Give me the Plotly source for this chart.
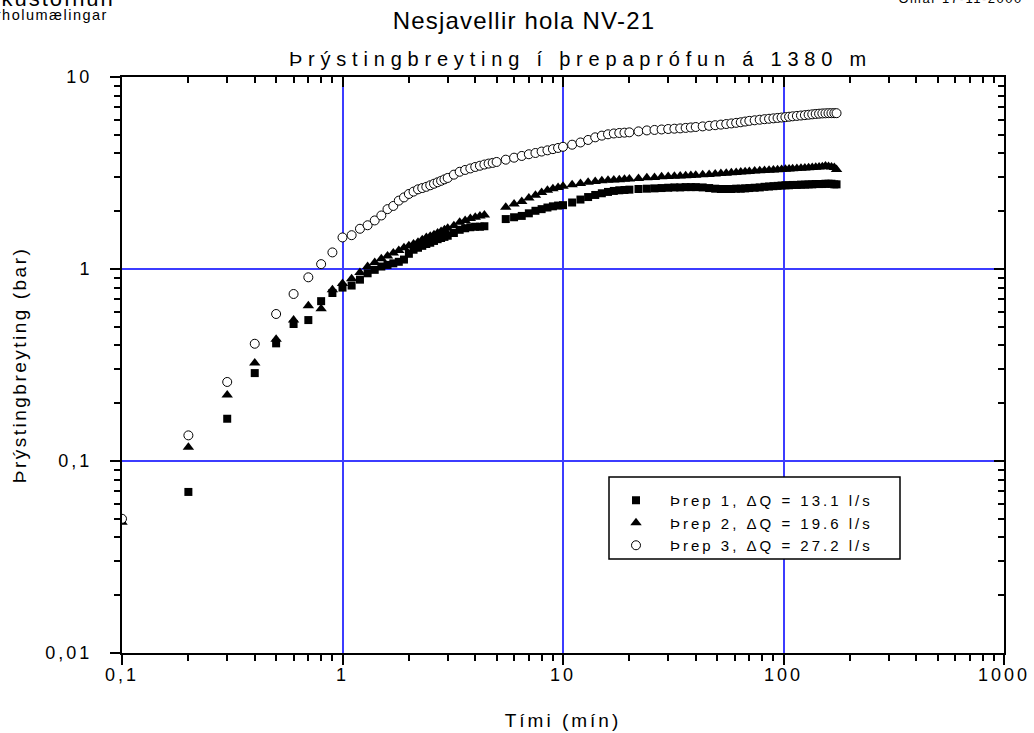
import plotly.graph_objects as go

# Tími frá upphafi þreps (mín)
timi = [0.1, 0.2, 0.3, 0.4, 0.5, 0.6, 0.7, 0.8, 0.9, 1.0,
        1.1, 1.2, 1.3, 1.4, 1.5, 1.6, 1.7, 1.8, 1.9, 2.0,
        2.1, 2.2, 2.3, 2.4, 2.5, 2.6, 2.7, 2.8, 2.9, 3.0,
        3.2, 3.4, 3.6, 3.8, 4.0, 4.2, 4.4, 4.6, 4.8, 5.0,
        5.5, 6.0, 6.5, 7.0, 7.5, 8.0, 8.5, 9.0, 9.5, 10,
        11, 12, 13, 14, 15, 16, 17, 18, 19, 20,
        22, 24, 26, 28, 30, 32, 34, 36, 38, 40,
        43, 46, 49, 52, 55, 58, 61, 64, 67, 70,
        74, 78, 82, 86, 90, 94, 98, 102, 106, 110,
        115, 120, 125, 130, 135, 140, 145, 150, 155, 160,
        165, 170, 174]

# Þrýstingbreyting (bar) í hverju þrepi
threp1 = [None, 0.069, 0.166, 0.287, 0.41, 0.517, 0.542, 0.68, 0.75, 0.80,
          0.82, 0.88, 0.95, 0.99, 1.03, 1.05, 1.07, 1.09, 1.12, 1.20,
          1.26, 1.29, 1.32, 1.35, 1.37, 1.40, 1.43, 1.45, 1.47, 1.49,
          1.54, 1.60, 1.63, 1.65, 1.66, 1.66, 1.67, None, None, None,
          1.82, 1.86, 1.89, 1.95, 2.01, 2.05, 2.09, 2.12, 2.14, 2.15,
          2.22, 2.30, 2.37, 2.43, 2.48, 2.52, 2.55, 2.57, 2.58, 2.59,
          2.61, 2.62, 2.63, 2.64, 2.65, 2.66, 2.66, 2.67, 2.67, 2.67,
          2.66, 2.64, 2.62, 2.61, 2.61, 2.61, 2.62, 2.62, 2.63, 2.64,
          2.65, 2.66, 2.68, 2.69, 2.70, 2.71, 2.72, 2.73, 2.73, 2.74,
          2.74, 2.75, 2.75, 2.76, 2.76, 2.77, 2.77, 2.77, 2.78, 2.78,
          2.78, 2.76, 2.76]

threp2 = [0.048, 0.118, 0.221, 0.324, 0.43, 0.542, 0.644, 0.62, 0.78, 0.84,
          0.89, 0.96, 1.03, 1.08, 1.13, 1.17, 1.21, 1.25, 1.29, 1.32,
          1.35, 1.38, 1.42, 1.46, 1.48, 1.51, 1.54, 1.57, 1.60, 1.63,
          1.68, 1.75, 1.79, 1.83, 1.86, 1.89, 1.91, None, None, None,
          2.10, 2.18, 2.25, 2.34, 2.42, 2.50, 2.57, 2.62, 2.66, 2.70,
          2.75, 2.79, 2.83, 2.86, 2.88, 2.90, 2.91, 2.92, 2.93, 2.94,
          2.96, 2.99, 3.00, 3.02, 3.03, 3.04, 3.05, 3.06, 3.07, 3.08,
          3.10, 3.11, 3.12, 3.14, 3.15, 3.17, 3.18, 3.20, 3.21, 3.22,
          3.24, 3.25, 3.26, 3.27, 3.28, 3.29, 3.30, 3.31, 3.32, 3.33,
          3.34, 3.35, 3.36, 3.37, 3.38, 3.39, 3.40, 3.41, 3.44, 3.42,
          3.40, 3.38, 3.30]

threp3 = [0.050, 0.136, 0.258, 0.408, 0.583, 0.741, 0.905, 1.06, 1.22, 1.46,
          1.50, 1.62, 1.69, 1.79, 1.90, 2.05, 2.13, 2.27, 2.36, 2.46,
          2.53, 2.60, 2.64, 2.68, 2.73, 2.78, 2.83, 2.88, 2.93, 2.98,
          3.10, 3.21, 3.28, 3.34, 3.40, 3.45, 3.50, 3.54, 3.57, 3.61,
          3.71, 3.80, 3.88, 3.96, 4.02, 4.09, 4.15, 4.21, 4.27, 4.33,
          4.44, 4.56, 4.70, 4.85, 4.95, 5.03, 5.08, 5.11, 5.13, 5.15,
          5.21, 5.27, 5.30, 5.33, 5.36, 5.38, 5.40, 5.43, 5.46, 5.49,
          5.53, 5.57, 5.61, 5.65, 5.69, 5.73, 5.77, 5.81, 5.86, 5.91,
          5.95, 5.99, 6.03, 6.06, 6.09, 6.12, 6.15, 6.18, 6.21, 6.24,
          6.27, 6.30, 6.33, 6.36, 6.39, 6.42, 6.44, 6.46, 6.47, 6.48,
          6.48, 6.48, 6.48]

heiti = ["Þrep 1, ΔQ = 13.1 l/s", "Þrep 2, ΔQ = 19.6 l/s", "Þrep 3, ΔQ = 27.2 l/s"]

x_tick_vals = [0.1, 1, 10, 100, 1000]
x_tick_text = ["0,1", "1", "10", "100", "1000"]
y_tick_vals = [0.01, 0.1, 1, 10]
y_tick_text = ["0,01", "0,1", "1", "10"]

FONT = "Liberation Sans, Arial, Helvetica, sans-serif"
GRID = "#3c3cff"
W, H = 1034, 733
L, R, T, B = 122, 30, 77, 80
PW, PH = W - L - R, H - T - B


def px_x(px):
    return (px - L) / PW


def px_y(py):
    return (H - B - py) / PH


fig = go.Figure()
fig.add_trace(go.Scatter(x=timi, y=threp1, mode="markers", name=heiti[0],
                         marker=dict(symbol="square", size=8, color="black",
                                     line=dict(width=0))))
fig.add_trace(go.Scatter(x=timi, y=threp2, mode="markers", name=heiti[1],
                         marker=dict(symbol="triangle-up", size=10, color="black",
                                     line=dict(width=0))))
fig.add_trace(go.Scatter(x=timi, y=threp3, mode="markers", name=heiti[2],
                         marker=dict(symbol="circle", size=9, color="white",
                                     line=dict(width=1, color="black"))))
# empty traces so the extra tick-only axes get drawn
fig.add_trace(go.Scatter(x=[], y=[], xaxis="x2", yaxis="y2", showlegend=False,
                         hoverinfo="skip"))
fig.add_trace(go.Scatter(x=[], y=[], xaxis="x3", yaxis="y", showlegend=False,
                         hoverinfo="skip"))

axis_common = dict(type="log", showline=True, linewidth=2, linecolor="black",
                   tickwidth=2, tickcolor="black", ticklen=10, zeroline=False,
                   automargin=False)
minor_out = dict(ticks="outside", ticklen=6, tickwidth=2, tickcolor="black",
                 showgrid=False, dtick="D1")
minor_in = dict(ticks="inside", ticklen=6, tickwidth=2, tickcolor="black",
                showgrid=False, dtick="D1")

fig.update_layout(
    width=W, height=H,
    margin=dict(l=L, r=R, t=T, b=B),
    paper_bgcolor="white", plot_bgcolor="white",
    font=dict(family=FONT, color="black"),
    title=dict(text="Nesjavellir hola NV-21", font=dict(size=24, family=FONT),
               xref="paper", x=px_x(524), xanchor="center",
               yref="container", y=1 - 21 / H, yanchor="middle"),
    # bottom axis: labels and grid only; its ticks come from x3
    xaxis={**axis_common,
           "range": [-1, 3], "ticks": "",
           "tickvals": x_tick_vals, "ticktext": x_tick_text,
           "tickfont": dict(size=18, family=FONT), "ticklabelstandoff": 4,
           "showgrid": True, "gridcolor": GRID, "gridwidth": 2,
           "title": dict(text="Tími (mín)", font=dict(size=19, family=FONT),
                         standoff=30)},
    xaxis3=dict(**axis_common, range=[-1, 3], overlaying="x", side="bottom", anchor="y",
                ticks="outside", tickvals=x_tick_vals, showticklabels=False,
                showgrid=False, minor=minor_out),
    yaxis=dict(**axis_common, range=[-2, 1], ticks="outside",
               tickvals=y_tick_vals, ticktext=y_tick_text,
               tickfont=dict(size=18, family=FONT), ticklabelstandoff=14,
               showgrid=True, gridcolor=GRID, gridwidth=2,
               minor=minor_out,
               title=dict(text="Þrýstingbreyting (bar)", font=dict(size=19, family=FONT),
                          standoff=26)),
    xaxis2=dict(**axis_common, range=[-1, 3], overlaying="x", side="top", anchor="y",
                ticks="inside", tickvals=x_tick_vals, showticklabels=False,
                showgrid=False, minor=minor_in),
    yaxis2=dict(**axis_common, range=[-2, 1], overlaying="y", side="right", anchor="x",
                ticks="inside", tickvals=y_tick_vals, showticklabels=False,
                showgrid=False, minor=minor_in),
    legend=dict(x=px_x(602), y=px_y(484), xanchor="left", yanchor="top",
                bgcolor="rgba(0,0,0,0)", borderwidth=0, itemwidth=58,
                font=dict(size=15, family=FONT)),
    shapes=[dict(type="rect", xref="paper", yref="paper", layer="above",
                 x0=px_x(609), x1=px_x(900), y0=px_y(559), y1=px_y(477),
                 line=dict(color="black", width=1.5), fillcolor="white")],
    annotations=[
        dict(text="Þrýstingbreyting í þrepaprófun á 1380 m", xref="paper", yref="paper",
             x=px_x(580), y=px_y(59), xanchor="center", yanchor="middle",
             showarrow=False, font=dict(size=20, family=FONT)),
        dict(text="Orkustofnun", xref="paper", yref="paper", align="left",
             x=px_x(-29), y=px_y(13), xanchor="left", yanchor="bottom",
             showarrow=False, font=dict(size=22, family=FONT)),
        dict(text="Borholumælingar", xref="paper", yref="paper", align="left",
             x=px_x(-27), y=px_y(5), xanchor="left", yanchor="top",
             showarrow=False, font=dict(size=14.5, family=FONT)),
        dict(text="Ómar 17-11-2000", xref="paper", yref="paper", align="right",
             x=px_x(1025), y=px_y(8), xanchor="right", yanchor="bottom",
             showarrow=False, font=dict(size=13, family=FONT)),
    ],
    showlegend=True,
)

# wider letter spacing for the lettering; the legend box is drawn as a shape,
# so its entries are left unclipped once spaced out
spacing_js = """
var css = '.gtitle{letter-spacing:1.2px}' +
  '.xtitle{letter-spacing:3px}' +
  '.ytitle{letter-spacing:2.5px}' +
  '.xtick text,.ytick text{letter-spacing:3px}' +
  '.legendtext{letter-spacing:3px}' +
  '.annotation[data-index="0"] text{letter-spacing:5.8px}' +
  '.annotation[data-index="1"] text{letter-spacing:2px}' +
  '.annotation[data-index="2"] text,' +
  '.annotation[data-index="3"] text{letter-spacing:1.5px}';
var s = document.createElement('style');
s.textContent = css;
document.head.appendChild(s);
var gd = document.getElementById('{plot_id}');
gd.querySelectorAll('.legend [clip-path]').forEach(function (e) {
  e.removeAttribute('clip-path');
});
"""

fig.write_html("out.html", post_script=spacing_js)
